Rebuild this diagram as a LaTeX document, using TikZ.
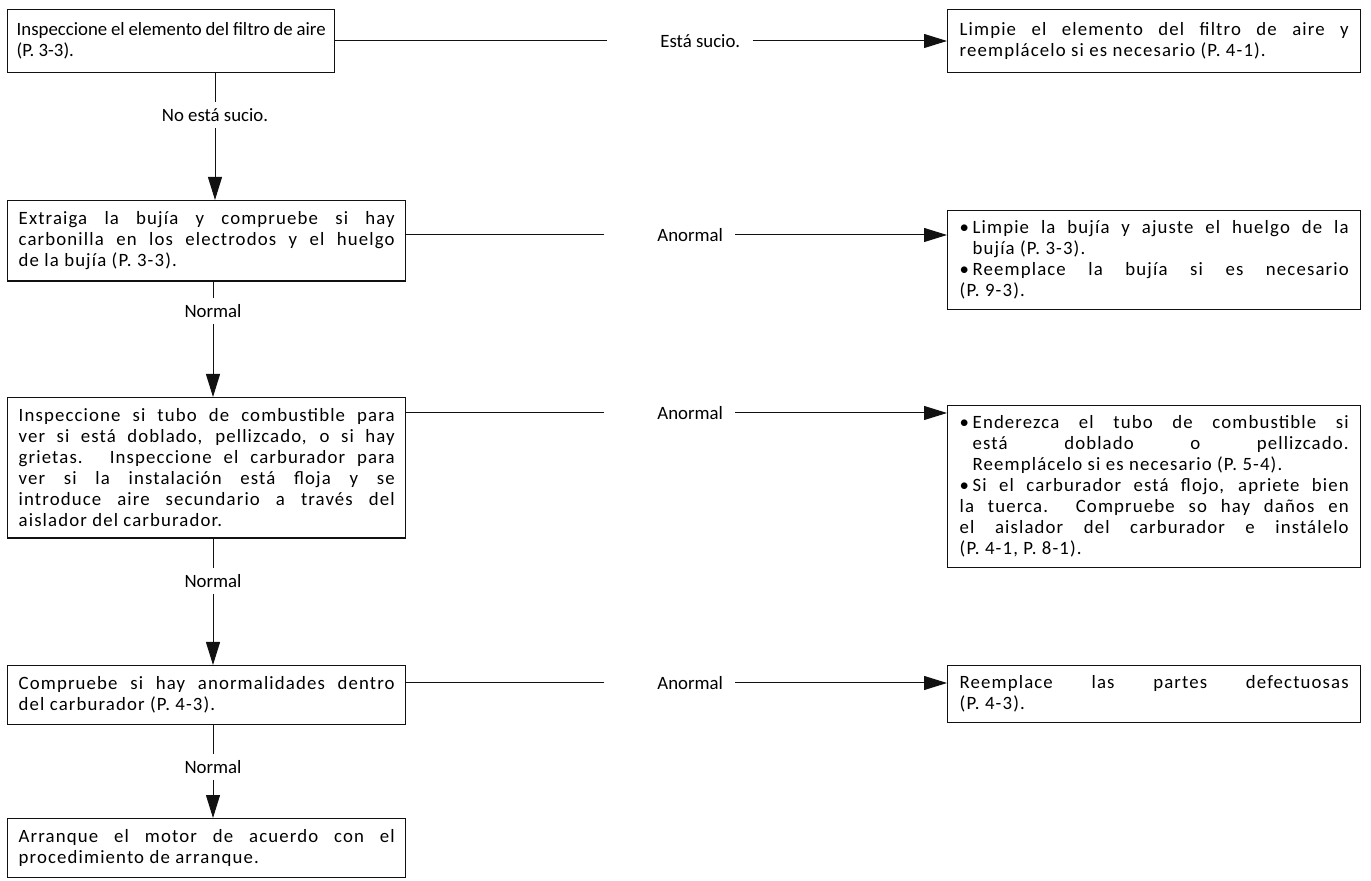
\documentclass[tikz,border=0pt]{standalone}
\usepackage{fontspec}
\setmainfont{Carlito}
\newfontfamily\spaced{Carlito}[LetterSpace=6]
\definecolor{ink}{HTML}{111111}
\usetikzlibrary{arrows.meta,positioning}
\newcommand\fs{\fontsize{9.4}{10.5}\selectfont}
\newcommand\bul{\noindent\hangindent=6.5pt\hangafter=1\makebox[6.5pt][l]{\textbullet}}
\tikzset{
  >={Triangle[length=11.5pt,width=7pt]},
  box/.style={draw=ink,line width=0.7pt,inner xsep=5.5pt,inner ysep=5.5pt,align=justify,font=\fs\spaced,anchor=north west},
  lbox/.style={box,text width=188pt},
  rbox/.style={box,text width=194.5pt,inner xsep=6pt,inner ysep=5pt},
  lab/.style={font=\fs,inner xsep=6pt,inner ysep=3pt},
  ln/.style={draw=ink,line width=0.5pt},
  arr/.style={->,draw=ink,line width=0.5pt},
}
\begin{document}
\begin{tikzpicture}[x=0.5pt,y=-0.5pt]
\useasboundingbox (0,0) rectangle (1371,881);
% checks, left column
\node[box,text width=154.5pt,inner xsep=4.5pt,inner ysep=6.5pt,font=\fs] (insp) at (7,9) {Inspeccione el elemento del filtro de aire\\ (P. 3-3).};
\node[lbox] (bujia) at (7,200) {Extraiga la bujía y compruebe si hay\linebreak carbonilla en los electrodos y el huelgo\linebreak de la bujía (P. 3-3).};
\node[lbox] (tubo) at (7,397) {Inspeccione si tubo de combustible para\linebreak ver si está doblado, pellizcado, o si hay\linebreak grietas. Inspeccione el carburador para\linebreak ver si la instalación está floja y se\linebreak introduce aire secundario a través del\linebreak aislador del carburador.};
\node[lbox] (carb) at (7,665) {Compruebe si hay anormalidades dentro\linebreak del carburador (P. 4-3).};
\node[lbox] (arranque) at (7,818) {Arranque el motor de acuerdo con el\linebreak procedimiento de arranque.};
% remedies, right column
\node[rbox,inner ysep=6.5pt] (limpie) at (947,9) {Limpie el elemento del filtro de aire y\linebreak reemplácelo si es necesario (P. 4-1).};
\node[rbox] (ajuste) at (947,210) {\bul Limpie la bujía y ajuste el huelgo de la\linebreak bujía (P. 3-3).\par\bul Reemplace la bujía si es necesario\linebreak (P. 9-3).};
\node[rbox] (endereza) at (947,405) {\bul Enderezca el tubo de combustible si\linebreak está doblado o pellizcado.\linebreak Reemplácelo si es necesario (P. 5-4).\par\bul Si el carburador está flojo, apriete bien\linebreak la tuerca.\ \ Compruebe so hay daños en\linebreak el aislador del carburador e instálelo\linebreak (P. 4-1, P. 8-1).};
\node[rbox] (reemplace) at (947,665) {Reemplace las partes defectuosas\linebreak (P. 4-3).};
% labels
\node[lab] (limpio) at (215,115) {No está sucio.};
\node[lab] (norm1) at (213,311) {Normal};
\node[lab] (norm2) at (213,581) {Normal};
\node[lab] (norm3) at (213,767) {Normal};
\node[lab,anchor=west] (sucio) at (648,41) {Está sucio.};
\node[lab,anchor=west] (anorm1) at (645,235) {Anormal};
\node[lab,anchor=west] (anorm2) at (645,413) {Anormal};
\node[lab,anchor=west] (anorm3) at (645,683) {Anormal};
\foreach \a/\l/\b in {insp/limpio/bujia,bujia/norm1/tubo,tubo/norm2/carb,carb/norm3/arranque} {
  \draw[ln] (\a.south -| \l) -- (\l.north);
  \draw[arr] (\l.south) -- (\b.north -| \l);
}
\foreach \a/\l/\b in {insp/sucio/limpie,bujia/anorm1/ajuste,tubo/anorm2/endereza,carb/anorm3/reemplace} {
  \draw[ln,shorten >=20.5pt] (\a.east |- \l) -- (\l.west);
  \draw[arr] (\l.east) -- (\b.west |- \l);
}
\end{tikzpicture}
\end{document}
